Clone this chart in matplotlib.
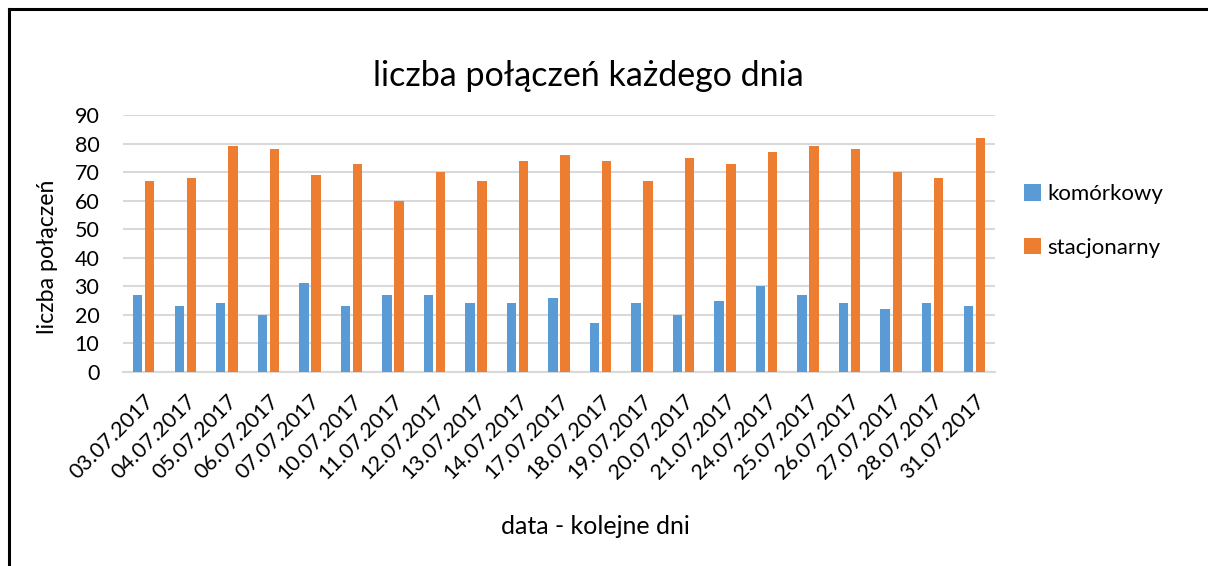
import matplotlib.pyplot as plt
import numpy as np

plt.rcParams["font.family"] = ["Lato", "DejaVu Sans"]

dates = ["03.07.2017", "04.07.2017", "05.07.2017", "06.07.2017", "07.07.2017",
         "10.07.2017", "11.07.2017", "12.07.2017", "13.07.2017", "14.07.2017",
         "17.07.2017", "18.07.2017", "19.07.2017", "20.07.2017", "21.07.2017",
         "24.07.2017", "25.07.2017", "26.07.2017", "27.07.2017", "28.07.2017",
         "31.07.2017"]
komorkowy = [27, 23, 24, 20, 31, 23, 27, 27, 24, 24, 26, 17, 24, 20, 25, 30, 27, 24, 22, 24, 23]
stacjonarny = [67, 68, 79, 78, 69, 73, 60, 70, 67, 74, 76, 74, 67, 75, 73, 77, 79, 78, 70, 68, 82]

fig = plt.figure(figsize=(12.08, 5.66), dpi=100)
ax = fig.add_axes([123 / 1208, 1 - 372 / 566, (995 - 123) / 1208, (372 - 115) / 566])

x = np.arange(len(dates))
w = 0.226
ax.bar(x - 0.145, komorkowy, w, color="#5B9BD5", label="komórkowy", zorder=3)
ax.bar(x + 0.145, stacjonarny, w, color="#ED7D31", label="stacjonarny", zorder=3)

ax.set_xlim(-0.5, len(dates) - 0.5)
ax.set_ylim(0, 90)
ax.set_yticks(range(0, 91, 10))
ax.yaxis.grid(True, color="#d9d9d9", lw=1.5, zorder=0)
ax.set_axisbelow(True)
for s in ["top", "right", "left"]:
    ax.spines[s].set_visible(False)
ax.spines["bottom"].set_color("#d9d9d9")
ax.spines["bottom"].set_linewidth(1.5)
ax.tick_params(length=0, labelsize=15.5, colors="black")
ax.tick_params(axis="y", pad=17)
ax.set_xticks(x)
ax.set_xticklabels(dates, rotation=45, ha="right", rotation_mode="anchor")
ax.tick_params(axis="x", pad=14)

ax.set_ylabel("liczba połączeń", fontsize=16.7)
ax.yaxis.set_label_coords(-0.074, 0.45)
fig.text(595 / 1208, 1 - 527 / 566, "data - kolejne dni", fontsize=18,
         ha="center", va="center")
fig.text(588 / 1208, 1 - 76 / 566, "liczba połączeń każdego dnia", fontsize=24.5,
         ha="center", va="center")

fig.legend(loc="center left", bbox_to_anchor=(1024 / 1208, 1 - 221 / 566),
           frameon=False, fontsize=16, handlelength=0.75, handleheight=0.75,
           handletextpad=0.3, labelspacing=1.5, borderaxespad=0, borderpad=0)

# frame lines at top and left of the figure
fig.add_artist(plt.Line2D([9 / 1208, 9 / 1208], [0, 1 - 9 / 566], color="black", lw=2.2,
                          transform=fig.transFigure))
fig.add_artist(plt.Line2D([9 / 1208, 1], [1 - 9 / 566, 1 - 9 / 566], color="black", lw=2.2,
                          transform=fig.transFigure))

fig.savefig("out.png", dpi=100)
